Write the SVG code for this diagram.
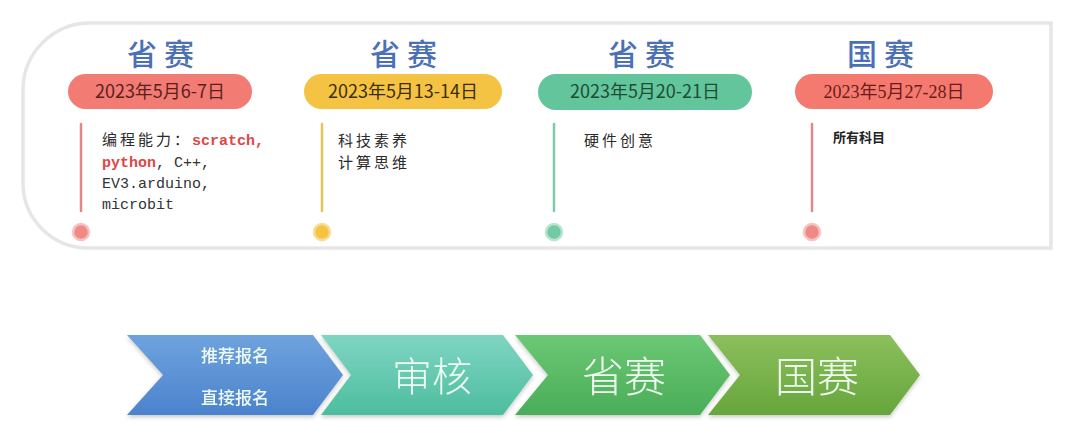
<svg xmlns="http://www.w3.org/2000/svg" width="1080" height="445" viewBox="0 0 1080 445">
<defs>
<linearGradient id="gBlue" x1="0" y1="0" x2="0" y2="1"><stop offset="0" stop-color="#6fa3de"/><stop offset="1" stop-color="#4b83cc"/></linearGradient>
<linearGradient id="gTeal" x1="0" y1="0" x2="0" y2="1"><stop offset="0" stop-color="#7fd5c3"/><stop offset="1" stop-color="#4dbd9e"/></linearGradient>
<linearGradient id="gGreen" x1="0" y1="0" x2="0" y2="1"><stop offset="0" stop-color="#6cc874"/><stop offset="1" stop-color="#4aad58"/></linearGradient>
<linearGradient id="gOlive" x1="0" y1="0" x2="0" y2="1"><stop offset="0" stop-color="#8cbf5c"/><stop offset="1" stop-color="#66a63c"/></linearGradient>
<filter id="sh" x="-10%" y="-10%" width="120%" height="130%"><feDropShadow dx="0" dy="2" stdDeviation="2" flood-color="#000" flood-opacity="0.22"/></filter>
</defs>
<style>
.title{font-family:"Noto Sans CJK SC","Noto Sans",sans-serif;font-size:30px;font-weight:500;fill:#4b70b8;text-anchor:middle;letter-spacing:7px}
.pill{font-family:"Noto Sans CJK SC","Noto Sans",sans-serif;font-size:18px;text-anchor:middle}
.pillserif{font-family:"Liberation Serif","Noto Sans CJK SC",serif;font-size:18px;text-anchor:middle}
.mono{font-family:"Liberation Mono","Noto Sans CJK SC",monospace;font-size:15px;fill:#333}
.cjk{font-family:"Noto Sans CJK SC",sans-serif;font-size:15px;fill:#2a2a2a;letter-spacing:3px}
.red{fill:#dd4747;font-weight:bold}
.arrowtxt{font-family:"Noto Sans CJK SC",sans-serif;fill:#effaf0;text-anchor:middle;font-weight:300}
.vline{stroke-width:2.5;stroke-linecap:round}
</style>
<rect width="1080" height="445" fill="#ffffff"/>
<path id="frame" d="M1051 23 L90 23 A67 67 0 0 0 23 90 L23 183 A65 65 0 0 0 88 248 L1051 248 Z" fill="#ffffff" stroke="#e6e6e6" stroke-width="3.5"/>

<g id="stage1">
<text class="title" x="164" y="65">省赛</text>
<rect x="68" y="74" width="184" height="35" rx="17.5" fill="#f27b73"/>
<text class="pill" x="160" y="98" fill="#5b1f1f">2023年5月6-7日</text>
<line class="vline" x1="81" y1="124" x2="81" y2="211" stroke="#e28888"/>
<circle cx="81" cy="232" r="8" fill="#f08a86" stroke="#f7c3c0" stroke-width="2.5"/>
<text class="mono" x="102" y="145"><tspan class="cjk" style="letter-spacing:3px">编程能力：</tspan><tspan class="red">scratch,</tspan></text>
<text class="mono" x="102" y="167"><tspan class="red">python</tspan>, C++,</text>
<text class="mono" x="102" y="188">EV3.arduino,</text>
<text class="mono" x="102" y="209">microbit</text>
</g>

<g id="stage2">
<text class="title" x="407" y="65">省赛</text>
<rect x="304" y="74" width="198" height="35" rx="17.5" fill="#f4c344"/>
<text class="pill" x="403" y="98" fill="#3d2d0d">2023年5月13-14日</text>
<line class="vline" x1="322" y1="124" x2="322" y2="211" stroke="#e8c35c"/>
<circle cx="322" cy="232" r="8" fill="#f4c344" stroke="#f8dd92" stroke-width="2.5"/>
<text class="cjk" x="338" y="146">科技素养</text>
<text class="cjk" x="338" y="168">计算思维</text>
</g>

<g id="stage3">
<text class="title" x="645" y="65">省赛</text>
<rect x="538" y="74" width="214" height="36" rx="18" fill="#62c59b"/>
<text class="pill" x="645" y="98" fill="#1e4d36">2023年5月20-21日</text>
<line class="vline" x1="554" y1="124" x2="554" y2="211" stroke="#7ccaa8"/>
<circle cx="554" cy="232" r="8" fill="#72c9a4" stroke="#b8e5d0" stroke-width="2.5"/>
<text class="cjk" x="584" y="146">硬件创意</text>
</g>

<g id="stage4">
<text class="title" x="884" y="65">国赛</text>
<rect x="795" y="74" width="198" height="35" rx="17.5" fill="#f47a70"/>
<text class="pillserif" x="894" y="98" fill="#6b1b1b">2023年5月27-28日</text>
<line class="vline" x1="812" y1="124" x2="812" y2="211" stroke="#e28888"/>
<circle cx="812" cy="232" r="8" fill="#f08a86" stroke="#f7c3c0" stroke-width="2.5"/>
<text x="833" y="142" style="font-family:'Noto Sans CJK SC',sans-serif;font-size:13px;font-weight:bold;fill:#222">所有科目</text>
</g>

<g id="flow">
<g id="step1" filter="url(#sh)">
<path d="M127 335 L313 335 L343 375 L313 415 L127 415 L163 375 Z" fill="url(#gBlue)"/>
<text class="arrowtxt" x="235" y="362" style="font-size:17px;font-weight:500">推荐报名</text>
<text class="arrowtxt" x="235" y="404" style="font-size:17px;font-weight:500">直接报名</text>
</g>
<g id="step2" filter="url(#sh)">
<path d="M321 335 L503 335 L533 375 L503 415 L321 415 L351 375 Z" fill="url(#gTeal)"/>
<text class="arrowtxt" x="432" y="391" style="font-size:40px">审核</text>
</g>
<g id="step3" filter="url(#sh)">
<path d="M515 335 L700 335 L730 375 L700 415 L515 415 L548 375 Z" fill="url(#gGreen)"/>
<text class="arrowtxt" x="624" y="392" style="font-size:42px">省赛</text>
</g>
<g id="step4" filter="url(#sh)">
<path d="M708 335 L890 335 L920 375 L890 415 L708 415 L740 375 Z" fill="url(#gOlive)"/>
<text class="arrowtxt" x="817" y="392" style="font-size:42px">国赛</text>
</g>
</g>
</svg>
